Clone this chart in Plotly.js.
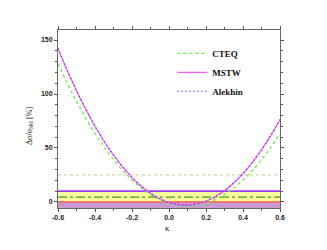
<!DOCTYPE html>
<html>
<head>
<meta charset="utf-8">
<script src="https://cdn.plot.ly/plotly-3.0.1.min.js"></script>
<style>html,body{margin:0;padding:0;background:#fff;}#chart{width:327px;height:250px;}</style>
</head>
<body>
<div id="chart"></div>
<script>
// kappa grid
const kappa = [-0.6,-0.55,-0.5,-0.45,-0.4,-0.35,-0.3,-0.25,-0.2,-0.15,-0.1,-0.05,0,0.05,0.1,0.15,0.2,0.25,0.3,0.35,0.4,0.45,0.5,0.55,0.6];
// Series values (Delta sigma / sigma_SM in %)
const cteq    = [128.3,110.1,93.2,77.7,63.5,50.7,39.2,29.1,20.3,12.9,6.8,2.1,-1.3,-3.3,-4.0,-3.3,-1.3,2.1,6.8,12.9,20.3,29.1,39.2,50.7,63.5];
const mstw    = [142.0,121.8,103.0,85.8,70.1,56.0,43.3,32.2,22.6,14.5,8.0,3.0,-0.5,-2.5,-3.0,-1.9,0.7,4.8,10.4,17.6,26.3,36.5,48.2,61.5,76.2];
const alekhin = [142.3,122.0,103.2,86.0,70.2,56.1,43.4,32.3,22.7,14.6,8.1,3.1,-0.4,-2.4,-2.9,-1.8,0.8,4.9,10.5,17.7,26.4,36.6,48.3,61.6,76.4];
// Horizontal reference levels
const bandX = [-0.6, 0.6];
const purpleLow = -6;
const zeroLevel = 0;
const yellowTop = 10;
const dashDotLevel = 4.5;
const dottedLevel = 25;
const xTicks = [-0.6,-0.4,-0.2,0.0,0.2,0.4,0.6];
const xTickText = ['-0.6','-0.4','-0.2','0.0','0.2','0.4','0.6'];
const yTicks = [0,50,100,150];

const flat = v => bandX.map(() => v);

const traces = [
  {x: bandX, y: flat(purpleLow), mode:'lines', line:{width:0, color:'rgba(0,0,0,0)'}, showlegend:false, hoverinfo:'skip'},
  {x: bandX, y: flat(zeroLevel), mode:'lines', fill:'tonexty', fillcolor:'#c89ad0', line:{width:0, color:'rgba(0,0,0,0)'}, showlegend:false, hoverinfo:'skip'},
  {x: bandX, y: flat(yellowTop), mode:'lines', fill:'tonexty', fillcolor:'#ffff9e', line:{width:0, color:'rgba(0,0,0,0)'}, showlegend:false, hoverinfo:'skip'},
  {x: bandX, y: flat(zeroLevel), mode:'lines', line:{width:1.2, color:'#ff4a4a'}, showlegend:false, hoverinfo:'skip'},
  {x: bandX, y: flat(yellowTop), mode:'lines', line:{width:1.6, color:'#9b3cf5'}, showlegend:false, hoverinfo:'skip'},
  {x: bandX, y: flat(dashDotLevel), mode:'lines', line:{width:1.1, color:'#3c9a2a', dash:'dashdot'}, showlegend:false, hoverinfo:'skip'},
  {x: bandX, y: flat(dottedLevel), mode:'lines', line:{width:1.2, color:'#d2d2a8', dash:'dot'}, showlegend:false, hoverinfo:'skip'},
  {x: kappa, y: cteq, name:'CTEQ', mode:'lines', line:{shape:'spline', width:1.3, color:'#66ee44', dash:'3px,3px'}},
  {x: kappa, y: mstw, name:'MSTW', mode:'lines', line:{shape:'spline', width:1.2, color:'#ff55ff'}},
  {x: kappa, y: alekhin, name:'Alekhin', mode:'lines', line:{shape:'spline', width:1.3, color:'#3333ff', dash:'1px,3px'}}
];

const tickFont = {family:'Liberation Sans, Arial, sans-serif', size:7, color:'#222', weight:'bold'};

const layout = {
  width:327, height:250,
  margin:{l:58, r:47, t:30, b:42},
  paper_bgcolor:'#fff', plot_bgcolor:'#fff',
  showlegend:true,
  legend:{x:0.515, y:0.95, xanchor:'left', yanchor:'top', bgcolor:'rgba(0,0,0,0)',
          traceorder:'normal',
          font:{family:'Liberation Serif, Times New Roman, serif', size:9, color:'#111', weight:'bold'},
          tracegroupgap:0, itemwidth:30},
  xaxis:{range:[-0.6,0.6], tickvals:xTicks, ticktext:xTickText, ticks:'outside', ticklen:3, tickcolor:'#555',
         showline:true, linecolor:'#666', linewidth:1, mirror:'ticks', showgrid:false, zeroline:false,
         tickfont:tickFont,
         minor:{dtick:0.1, tick0:0, ticks:'outside', ticklen:2, tickcolor:'#555'}},
  yaxis:{range:[-5.6,159.3], tickvals:yTicks, ticks:'outside', ticklen:3, tickcolor:'#555',
         showline:true, linecolor:'#666', linewidth:1, mirror:'ticks', showgrid:false, zeroline:false,
         tickfont:tickFont,
         minor:{dtick:10, tick0:0, ticks:'outside', ticklen:2, tickcolor:'#555'}},
  annotations:[
    {xref:'paper', yref:'paper', x:-0.158, y:0.46, text:'\u0394\u03c3/\u03c3<sub>SM</sub> [%]', showarrow:false, textangle:-90,
     font:{family:'Liberation Serif, Times New Roman, serif', size:8, color:'#222'}},
    {xref:'paper', yref:'paper', x:0.495, y:-0.15, text:'\u03ba', showarrow:false,
     font:{family:'Liberation Serif, Times New Roman, serif', size:9, color:'#222'}}
  ]
};

Plotly.newPlot('chart', traces, layout, {displayModeBar:false, staticPlot:true});
</script>
</body>
</html>
